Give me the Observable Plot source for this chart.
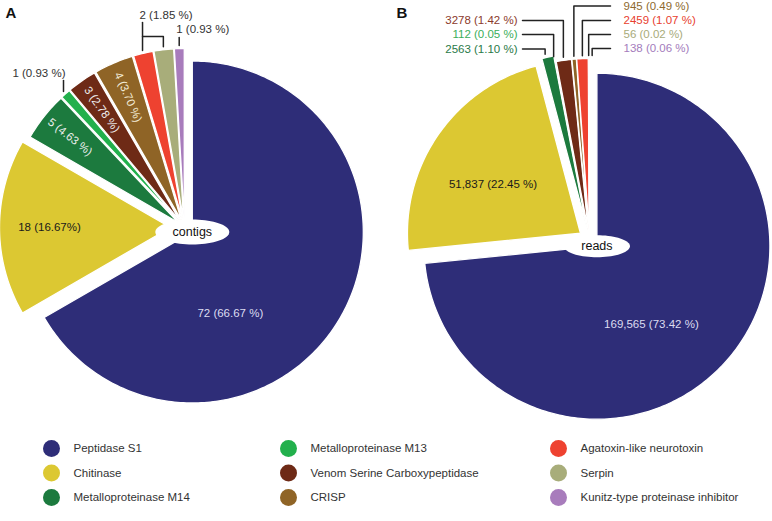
<!DOCTYPE html>
<html><head><meta charset="utf-8">
<script src="https://cdn.jsdelivr.net/npm/d3@7"></script>
<script src="https://cdn.jsdelivr.net/npm/@observablehq/plot@0.6"></script>
<style>html,body{margin:0;padding:0;background:#fff;} svg{display:block}</style>
</head><body><div id="chart"></div>
<script>
// ---------- data ----------
const categories = ["Peptidase S1","Chitinase","Metalloproteinase M14","Metalloproteinase M13","Venom Serine Carboxypeptidase","CRISP","Agatoxin-like neurotoxin","Serpin","Kunitz-type proteinase inhibitor"];
const colors = ["#2e2d78","#dcc832","#1c7a3e","#22b04c","#6e2a16","#8f6426","#ee4230","#a8ad7a","#a87cbc"];
const contigCounts = [72,18,5,1,3,4,2,2,1];
const contigLabels = ["72 (66.67 %)","18 (16.67%)","5 (4.63 %)","1 (0.93 %)","3 (2.78 %)","4 (3.70 %)","2 (1.85 %)","2 (1.85 %)","1 (0.93 %)"];
const readCounts = [169565,51837,2563,112,3278,945,2459,56,138];
const readLabels = ["169,565 (73.42 %)","51,837 (22.45 %)","2563 (1.10 %)","112 (0.05 %)","3278 (1.42 %)","945 (0.49 %)","2459 (1.07 %)","56 (0.02 %)","138 (0.06 %)"];
const pieNames = ["contigs","reads"];
const panelLetters = ["A","B"];

// ---------- layout ----------
const W = 772, H = 521;
const FONT = "'Liberation Sans', Arial, Helvetica, sans-serif";
const rad = d => d * Math.PI / 180;
const L = [
  {center:[184,227], r:171, explode:[9,14,8,8,8,8,8,8,8], letter:[5,13], hole:[37,12.5],
   inside:[{i:0, angle:155, dist:90, fill:"#dcdcf0"}, {i:1, dist:121, fill:"#1a1a1a", shadow:true},
           {i:2, dist:138, rot:true, fill:"#f0f0f0"}, {i:4, dist:136, rot:true, fill:"#f0f0f0"}, {i:5, dist:134, rot:true, fill:"#f3ecd8"}]},
  {center:[589,239], r:173, explode:[10,11,14,10,8,8,8,8,8], letter:[396,13], hole:[33,11],
   inside:[{i:0, angle:145, dist:95, fill:"#dcdcf0"}, {i:1, angle:299, dist:100, fill:"#1a1a1a", shadow:true}]}
];
const labelColorsB = ["#fff","#000","#2a7a48","#3aae5a","#8b3a2c","#8e6a2e","#e8402e","#a8ab7a","#a47cbc"];
const legendCols = [51, 288, 558], legendRows = [448, 472.5, 497];

function slicesFor(values, lay) {
  const arcs = d3.pie().sort(null).value(d => d)(values);
  return arcs.map((a, i) => {
    const mid = (a.startAngle + a.endAngle) / 2;
    const e = lay.explode[i];
    return {i, start:a.startAngle, end:a.endAngle, mid,
            ax: lay.center[0] + e * Math.sin(mid), ay: lay.center[1] - e * Math.cos(mid)};
  });
}
const polar = (s, ang, r) => [s.ax + r * Math.sin(ang), s.ay - r * Math.cos(ang)];

const pies = [contigCounts, readCounts].map((v, p) => slicesFor(v, L[p]));

// slice polygons
const slicePts = [];
pies.forEach((sl, p) => sl.forEach(s => {
  const key = p + "-" + s.i, cat = categories[s.i];
  slicePts.push({key, cat, x:s.ax, y:s.ay});
  const n = Math.max(2, Math.ceil((s.end - s.start) / rad(1)) + 1);
  for (let k = 0; k < n; k++) {
    const a = s.start + (s.end - s.start) * k / (n - 1);
    const [x, y] = polar(s, a, L[p].r);
    slicePts.push({key, cat, x, y});
  }
}));

// center ellipses
const holePts = [], holeText = [];
pies.forEach((sl, p) => {
  const b = sl[0], [rx, ry] = L[p].hole;
  for (let k = 0; k < 72; k++) {
    const t = 2 * Math.PI * k / 72;
    holePts.push({key:"h"+p, x:b.ax + rx * Math.cos(t), y:b.ay + ry * Math.sin(t)});
  }
  holeText.push({x:b.ax, y:b.ay, text:pieNames[p]});
});

// inside labels
const inLabels = [];
pies.forEach((sl, p) => L[p].inside.forEach(c => {
  const s = sl[c.i];
  const ang = c.angle != null ? rad(c.angle) : s.mid;
  const [x, y] = polar(s, ang, c.dist);
  inLabels.push({x, y, text:(p ? readLabels : contigLabels)[c.i], fill:c.fill,
                 shadow:!!c.shadow, rotate: c.rot ? s.mid * 180 / Math.PI - 270 : 0});
}));

// leaders
const leadPts = [], leadText = [];
let lk = 0;
function seg(pts) { const key = "l" + (lk++); pts.forEach(([x, y]) => leadPts.push({key, x, y})); }
{
  const sl = pies[0], r = L[0].r + 3;
  const p3 = polar(sl[3], sl[3].mid, r);
  seg([[p3[0], 80], p3]);
  leadText.push({x:p3[0] + 2, y:73, text:contigLabels[3], anchor:"end", fill:"#333"});
  const p6 = polar(sl[6], sl[6].mid, r), p7 = polar(sl[7], sl[7].mid, r);
  seg([[p6[0], 22], p6]);
  seg([[p6[0], 36], [p7[0], 36], p7]);
  leadText.push({x:p6[0] - 3, y:15, text:contigLabels[6], anchor:"start", fill:"#333"});
  const p8 = polar(sl[8], sl[8].mid, r);
  seg([[p8[0], 37], p8]);
  leadText.push({x:p8[0] - 3, y:29, text:contigLabels[8], anchor:"start", fill:"#333"});
}
{
  const sl = pies[1], r = L[1].r + 3;
  const nudge = {2:-2, 3:-1, 8:3};
  const groups = [
    {from:522, tx:517, anchor:"end", items:[[4,20],[3,34],[2,48.5]]},
    {from:610, tx:623, anchor:"start", items:[[5,5.5],[6,20],[7,34],[8,48]]}
  ];
  groups.forEach(g => g.items.forEach(([i, row]) => {
    const p = polar(sl[i], sl[i].mid, r);
    const px = p[0] + (nudge[i] || 0);
    seg([[g.from, row], [px, row], [px, p[1]]]);
    leadText.push({x:g.tx, y:row, text:readLabels[i], anchor:g.anchor, fill:labelColorsB[i]});
  }));
}

// legend
const legend = categories.map((c, k) => ({cat:c, x:legendCols[Math.floor(k / 3)], y:legendRows[k % 3]}));
const letters = panelLetters.map((t, p) => ({text:t, x:L[p].letter[0], y:L[p].letter[1]}));

const chart = Plot.plot({
  width: W, height: H, margin: 0,
  style: {fontFamily: FONT, background: "#fff", overflow: "visible"},
  x: {domain:[0, W], range:[0, W], axis:null},
  y: {domain:[0, H], range:[0, H], axis:null},
  color: {domain: categories, range: colors},
  marks: [
    Plot.line(slicePts, {x:"x", y:"y", z:"key", fill:"cat", stroke:"#fff", strokeWidth:1.3, curve:"linear-closed"}),
    Plot.line(holePts, {x:"x", y:"y", z:"key", fill:"#fff", stroke:"none", curve:"linear-closed"}),
    Plot.text(holeText, {x:"x", y:"y", text:"text", fontSize:12.5, fill:"#111"}),
    Plot.text(inLabels.filter(d => !d.shadow), {x:"x", y:"y", text:"text", rotate:"rotate", fill:d => d.fill, fontSize:11.5}),
    Plot.text(inLabels.filter(d => d.shadow), {x:"x", y:"y", text:"text", fill:"#1a1a1a", fontSize:11.5, ariaLabel:"shadow-text"}),
    Plot.line(leadPts, {x:"x", y:"y", z:"key", stroke:"#222", strokeWidth:1.5}),
    Plot.text(leadText.filter(d => d.anchor === "end"), {x:"x", y:"y", text:"text", textAnchor:"end", fill:d => d.fill, fontSize:11.5}),
    Plot.text(leadText.filter(d => d.anchor === "start"), {x:"x", y:"y", text:"text", textAnchor:"start", fill:d => d.fill, fontSize:11.5}),
    Plot.text(letters, {x:"x", y:"y", text:"text", textAnchor:"start", fontSize:15, fontWeight:"bold", fill:"#111"}),
    Plot.dot(legend, {x:"x", y:"y", r:8.5, fill:"cat", ariaLabel:"legend-swatch"}),
    Plot.text(legend, {x:"x", y:"y", dx:22, text:"cat", textAnchor:"start", fontSize:11.5, fill:"#333"})
  ]
});
chart.querySelectorAll('[aria-label="legend-swatch"]').forEach(g => g.style.filter = "drop-shadow(2px 3px 2px rgba(0,0,0,0.35))");
chart.querySelectorAll('[aria-label="shadow-text"]').forEach(g => g.style.filter = "drop-shadow(1px 1px 2px rgba(40,30,0,0.75))");
document.getElementById("chart").appendChild(chart);
</script>
</body></html>
